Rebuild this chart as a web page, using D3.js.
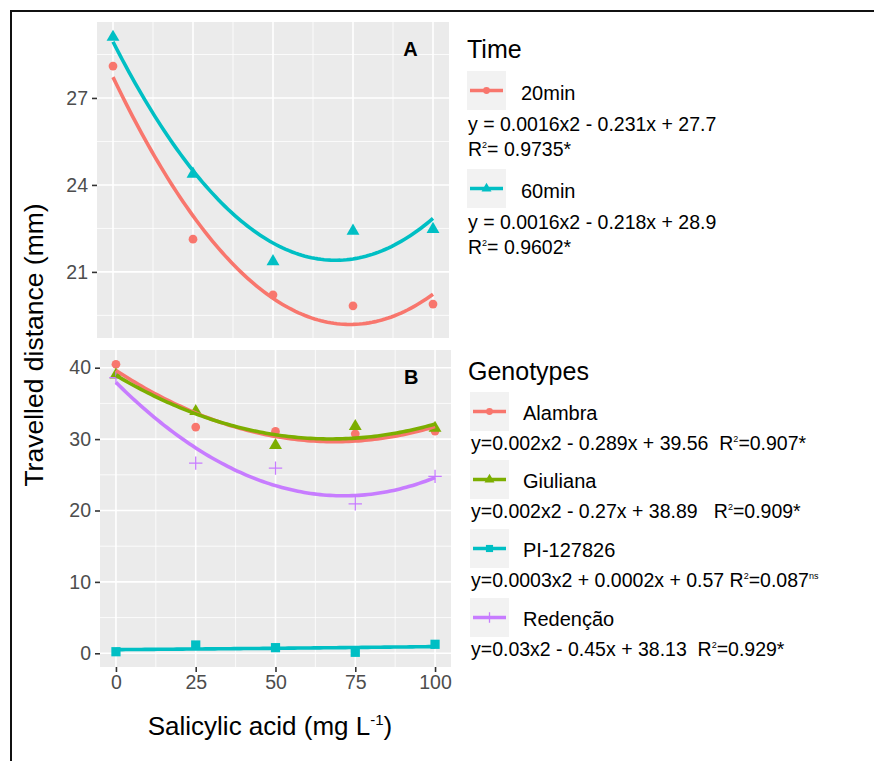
<!DOCTYPE html>
<html>
<head>
<meta charset="utf-8">
<script src="https://cdn.jsdelivr.net/npm/d3@7"></script>
<style>
  body { margin: 0; background: #fff; }
  text { font-family: "Liberation Sans", Arial, sans-serif; }
</style>
</head>
<body>
<script>
// salicylic acid doses (x)
const doses = [0, 25, 50, 75, 100]

// panel A: time
const timeNames = ['20min', '60min']
const time20 = [28.1, 22.13, 20.21, 19.83, 19.89]
const time60 = [29.1, 24.38, 21.36, 22.41, 22.47]
const timeEq = ['y = 0.0016x2 - 0.231x + 27.7', 'y = 0.0016x2 - 0.218x + 28.9']
const timeR2 = ['0.9735*', '0.9602*']
const ticksA = [21, 24, 27]

// panel B: genotypes
const genoNames = ['Alambra', 'Giuliana', 'PI-127826', 'Redenção']
const alambra = [40.48, 31.68, 31.08, 30.75, 31.12]
const giuliana = [39.0, 33.88, 29.12, 31.78, 31.54]
const pi127826 = [0.22, 1.16, 0.79, 0.14, 1.26]
const redencao = [38.6, 26.64, 25.94, 20.94, 24.78]
const genoEq = ['y=0.002x2 - 0.289x + 39.56  R', 'y=0.002x2 - 0.27x + 38.89   R', 'y=0.0003x2 + 0.0002x + 0.57 R', 'y=0.03x2 - 0.45x + 38.13  R']
const genoR2 = ['=0.907*', '=0.909*', '=0.087', '=0.929*']
const genoSup = ['', '', 'ns', '']
const ticksB = [0, 10, 20, 30, 40]
const ticksX = [0, 25, 50, 75, 100]

const w = 874
const h = 761

const svg = d3.select('body')
     .append('svg')
     .attr('width', w)
     .attr('height', h)

// outer frame (only top and left edges are visible)
svg.append('path')
     .attr('d', 'M11,761 L11,11 L874,11')
     .attr('fill', 'none')
     .attr('stroke', '#111')
     .attr('stroke-width', 2)

// quadratic least squares, like geom_smooth(method = lm, y ~ poly(x, 2))
function quadFit(xs, ys) {
     let s = [0, 0, 0, 0, 0], t = [0, 0, 0]
     xs.forEach((x, i) => {
          for (let k = 0; k < 5; k++) s[k] += Math.pow(x, k)
          for (let k = 0; k < 3; k++) t[k] += Math.pow(x, k) * ys[i]
     })
     const m = [[s[0], s[1], s[2], t[0]], [s[1], s[2], s[3], t[1]], [s[2], s[3], s[4], t[2]]]
     for (let c = 0; c < 3; c++) {
          for (let r = c + 1; r < 3; r++) {
               const f = m[r][c] / m[c][c]
               for (let k = c; k < 4; k++) m[r][k] -= f * m[c][k]
          }
     }
     const b = [0, 0, 0]
     for (let r = 2; r >= 0; r--) {
          let v = m[r][3]
          for (let k = r + 1; k < 3; k++) v -= m[r][k] * b[k]
          b[r] = v / m[r][r]
     }
     return x => b[0] + b[1] * x + b[2] * x * x
}

const xs = d3.range(0, 100.01, 1)

// "plus" symbol like ggplot shape 3
const plusShape = {
     draw(ctx, size) {
          const r = Math.sqrt(size) / 2
          ctx.moveTo(-r, 0); ctx.lineTo(r, 0)
          ctx.moveTo(0, -r); ctx.lineTo(0, r)
     }
}

function drawPanel(cfg) {
     const g = svg.append('g')
     const x = cfg.x, y = cfg.y
     const [x0, x1] = x.range()
     const [y0, y1] = y.range()

     g.append('rect')
          .attr('x', x0).attr('y', y1)
          .attr('width', x1 - x0).attr('height', y0 - y1)
          .attr('fill', '#EBEBEB')

     const minorY = cfg.yTicks.map(v => v - cfg.yStep / 2).concat([cfg.yTicks[cfg.yTicks.length - 1] + cfg.yStep / 2])
          .filter(v => v > y.domain()[0] && v < y.domain()[1])
     const minorX = [12.5, 37.5, 62.5, 87.5]

     g.selectAll('.minY').data(minorY).enter().append('line')
          .attr('x1', x0).attr('x2', x1)
          .attr('y1', d => y(d)).attr('y2', d => y(d))
          .attr('stroke', '#fff').attr('stroke-width', 0.8)
     g.selectAll('.minX').data(minorX).enter().append('line')
          .attr('y1', y0).attr('y2', y1)
          .attr('x1', d => x(d)).attr('x2', d => x(d))
          .attr('stroke', '#fff').attr('stroke-width', 0.8)
     g.selectAll('.majY').data(cfg.yTicks).enter().append('line')
          .attr('x1', x0).attr('x2', x1)
          .attr('y1', d => y(d)).attr('y2', d => y(d))
          .attr('stroke', '#fff').attr('stroke-width', 1.6)
     g.selectAll('.majX').data(ticksX).enter().append('line')
          .attr('y1', y0).attr('y2', y1)
          .attr('x1', d => x(d)).attr('x2', d => x(d))
          .attr('stroke', '#fff').attr('stroke-width', 1.6)

     // y axis
     const yAxis = g.append('g')
          .attr('transform', 'translate(' + x0 + ',0)')
          .call(d3.axisLeft(y).tickValues(cfg.yTicks).tickSize(5).tickPadding(4))
     yAxis.select('.domain').remove()
     yAxis.selectAll('line').attr('stroke', '#333').attr('stroke-width', 1.6)
     yAxis.selectAll('text')
          .attr('fill', '#4D4D4D')
          .style('font-size', '19.5px')
          .style('font-family', '"Liberation Sans", Arial, sans-serif')

     if (cfg.xAxis) {
          const xAxis = g.append('g')
               .attr('transform', 'translate(0,' + y0 + ')')
               .call(d3.axisBottom(x).tickValues(ticksX).tickSize(5).tickPadding(3))
          xAxis.select('.domain').remove()
          xAxis.selectAll('line').attr('stroke', '#333').attr('stroke-width', 1.6)
          xAxis.selectAll('text')
               .attr('fill', '#4D4D4D')
               .style('font-size', '19.5px')
               .style('font-family', '"Liberation Sans", Arial, sans-serif')
     }

     const clipId = 'clip' + cfg.id
     svg.append('clipPath').attr('id', clipId)
          .append('rect').attr('x', x0).attr('y', y1).attr('width', x1 - x0).attr('height', y0 - y1)
     const plot = g.append('g').attr('clip-path', 'url(#' + clipId + ')')

     // points first, fitted curves on top
     cfg.series.forEach(s => {
          const isPlus = s.shape === plusShape
          plot.selectAll(null).data(s.values).enter().append('path')
               .attr('transform', (d, i) => 'translate(' + x(doses[i]) + ',' + y(d) + ')')
               .attr('d', d3.symbol().type(s.shape).size(s.size)())
               .attr('fill', isPlus ? 'none' : s.color)
               .attr('stroke', isPlus ? s.color : 'none')
               .attr('stroke-width', 1.3)
     })
     const line = d3.line().x(d => x(d[0])).y(d => y(d[1]))
     cfg.series.forEach(s => {
          const f = quadFit(doses, s.values)
          plot.append('path')
               .datum(xs.map(v => [v, f(v)]))
               .attr('d', line)
               .attr('fill', 'none')
               .attr('stroke', s.color)
               .attr('stroke-width', 3.6)
     })

     g.append('text')
          .attr('x', x(cfg.labelX)).attr('y', cfg.labelY)
          .attr('text-anchor', 'middle')
          .style('font-size', '20px').style('font-weight', 'bold')
          .text(cfg.id)
}

const colA = ['#F8766D', '#00BFC4']
const colB = ['#F8766D', '#7CAE00', '#00BFC4', '#C77CFF']

const seriesA = [
     { values: time20, color: colA[0], shape: d3.symbolCircle, size: 60 },
     { values: time60, color: colA[1], shape: d3.symbolTriangle, size: 72 }
]
const seriesB = [
     { values: alambra, color: colB[0], shape: d3.symbolCircle, size: 60 },
     { values: giuliana, color: colB[1], shape: d3.symbolTriangle, size: 72 },
     { values: pi127826, color: colB[2], shape: d3.symbolSquare, size: 85 },
     { values: redencao, color: colB[3], shape: plusShape, size: 180 }
]

drawPanel({
     id: 'A',
     x: d3.scaleLinear().domain([-5, 105]).range([97, 449]),
     y: d3.scaleLinear().domain([18.72, 29.62]).range([338, 22]),
     yTicks: ticksA, yStep: 3, xAxis: false,
     series: seriesA, labelX: 93, labelY: 56
})
drawPanel({
     id: 'B',
     x: d3.scaleLinear().domain([-5, 105]).range([100, 451]),
     y: d3.scaleLinear().domain([-1.92, 42.48]).range([667, 350]),
     yTicks: ticksB, yStep: 10, xAxis: true,
     series: seriesB, labelX: 92.5, labelY: 384
})

// axis titles
svg.append('text')
     .attr('x', 270).attr('y', 735)
     .attr('text-anchor', 'middle')
     .style('font-size', '26px')
     .html('Salicylic acid (mg L<tspan dy="-10" font-size="15px">-1</tspan><tspan dy="10">)</tspan>')

svg.append('text')
     .attr('transform', 'translate(43,345) rotate(-90)')
     .attr('text-anchor', 'middle')
     .style('font-size', '26.5px')
     .text('Travelled distance (mm)')

// legends
function legendKey(x, y, color, shape, size) {
     const g = svg.append('g')
     const isPlus = shape === plusShape
     g.append('rect').attr('x', x).attr('y', y).attr('width', 39).attr('height', 39).attr('fill', '#F2F2F2')
     g.append('line')
          .attr('x1', x + 3).attr('x2', x + 36)
          .attr('y1', y + 19.5).attr('y2', y + 19.5)
          .attr('stroke', color).attr('stroke-width', 3.6)
     g.append('path')
          .attr('transform', 'translate(' + (x + 19.5) + ',' + (y + 19.5) + ')')
          .attr('d', d3.symbol().type(shape).size(size)())
          .attr('fill', isPlus ? 'none' : color)
          .attr('stroke', isPlus ? color : 'none')
          .attr('stroke-width', 1.3)
}

svg.append('text').attr('x', 467).attr('y', 58).style('font-size', '25px').text('Time')
const keyTopA = [71, 169]
timeNames.forEach((name, i) => {
     const top = keyTopA[i]
     legendKey(467, top, colA[i], seriesA[i].shape, seriesA[i].size * 0.6)
     svg.append('text').attr('x', 521).attr('y', top + 29).style('font-size', '20px').text(name)
     svg.append('text').attr('x', 468).attr('y', top + 60).style('font-size', '19.5px').text(timeEq[i])
     svg.append('text').attr('x', 468).attr('y', top + 85).style('font-size', '19.5px')
          .html('R<tspan dy="-8" font-size="9px">2</tspan><tspan dy="8">= ' + timeR2[i] + '</tspan>')
})

svg.append('text').attr('x', 468).attr('y', 380).style('font-size', '25px').text('Genotypes')
const keyTopB = [392, 460, 529, 598]
genoNames.forEach((name, i) => {
     const top = keyTopB[i]
     legendKey(470, top, colB[i], seriesB[i].shape, seriesB[i].size * 0.6)
     svg.append('text').attr('x', 523).attr('y', top + 28).style('font-size', '20px').text(name)
     svg.append('text').attr('x', 471).attr('y', top + 58).style('font-size', '19.5px').style('white-space', 'pre')
          .html(genoEq[i] + '<tspan dy="-8" font-size="9px">2</tspan><tspan dy="8">' + genoR2[i] + '</tspan>' +
               (genoSup[i] ? '<tspan dy="-8" font-size="9px">' + genoSup[i] + '</tspan>' : ''))
})
</script>
</body>
</html>
